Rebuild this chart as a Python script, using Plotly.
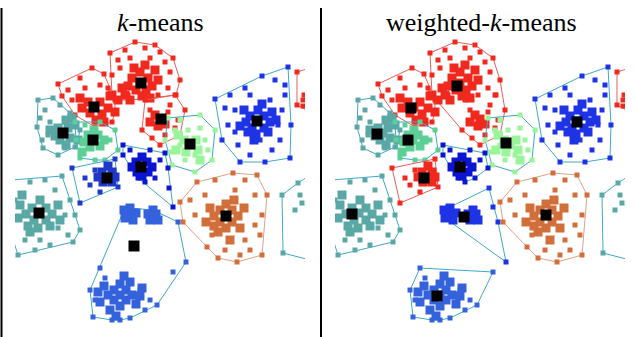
import plotly.graph_objects as go

# ---------------- data (panel-local pixel-like units) ----------------
RT_sparse = [(110,53),(135,42),(155,45),(173,58),(180,80),(112,75),(118,60),(125,50),(145,48),(160,52),
             (165,62),(170,72),(150,58),(130,58),(120,68),(168,88),(176,95),(158,95),(128,95)]
RT_core = [(140,83),(132,78),(148,78),(136,90),(146,90),(128,86),(152,86),(140,72),(134,68),(142,96),
           (125,95),(118,100),(155,70),(150,98),(122,88),(112,95),(130,100),(145,65),(158,80)]
RR_sparse = [(145,100),(175,95),(185,110),(180,135),(160,145),(142,130),(150,110),(170,105),(178,120),
             (165,135),(152,138),(175,128),(168,112)]
RR_core = [(160,119),(155,115),(165,124),(158,126),(150,122)]
RL_sparse = [(58,84),(92,68),(104,74),(115,100),(112,122),(95,127),(75,115),(68,90),(80,78),(100,85),
             (72,100),(85,88),(108,88),(62,96)]
RL_core = [(94,107),(88,102),(100,102),(90,113),(102,114),(82,108),(108,108),(96,120),(110,96),(115,112),
           (104,122),(80,98)]
T_sparse = [(38,100),(53,98),(70,113),(80,130),(75,147),(58,155),(43,148),(37,127),(45,110),(40,118),
            (48,135),(42,140),(60,105),(50,122),(65,148)]
T_core = [(63,133),(58,128),(68,128),(60,140),(70,138),(75,125),(55,136),(66,145),(72,118),(78,140),
          (50,130),(66,120)]
G_sparse = [(75,122),(100,122),(115,130),(118,150),(105,160),(80,158),(76,140),(110,140),(85,125),(95,160)]
G_core = [(93,140),(88,135),(98,135),(90,147),(100,146),(84,142),(104,140),(94,130),(82,152)]
LG_sparse = [(168,118),(200,115),(215,130),(212,160),(195,172),(172,165),(165,140),(180,120),(205,140),
             (185,160),(175,130),(200,128),(208,150),(170,152),(188,130),(195,155),(180,145)]
LG_core = [(190,145),(184,140),(196,140),(186,152),(198,150),(178,135),(200,160),(176,150)]
BR_sparse = [(215,99),(262,76),(288,67),(291,125),(290,158),(265,162),(240,162),(222,140),(230,95),(245,88),
             (275,80),(285,95),(282,110),(235,110),(228,125),(238,145),(250,155),(272,150),(280,140),(285,85),
             (250,95),(225,108),(278,125),(235,132),(270,100),(260,140)]
BR_core = [(257,121),(250,116),(264,116),(252,128),(264,128),(246,122),(270,122),(258,110),(256,134),
           (244,110),(268,132),(272,112),(248,132),(240,126),(262,104),(276,120),(254,140)]
BC_sparse = [(123,145),(165,153),(168,168),(138,178),(123,155),(150,150),(160,160),(155,178),(130,150),(145,182)]
BC_core = [(141,167),(136,162),(147,162),(137,172),(148,172),(132,167),(152,167),(142,157),(142,176)]
BC_tail = [(169,188),(173,207)]
BS_sparse = [(72,168),(115,159),(118,187),(80,203),(90,185),(100,192),(95,170),(85,178)]
BS_core = [(107,177),(102,172),(112,172),(103,182),(112,182),(98,177),(108,166),(115,177)]
TB_sparse = [(12,180),(62,176),(70,200),(80,230),(73,242),(18,255),(10,230),(30,182),(45,180),(55,190),
             (65,215),(68,235),(50,245),(35,250),(25,240),(15,200),(58,228),(40,240),(75,215)]
TB_core = [(39,213),(32,208),(46,208),(34,220),(46,220),(26,214),(52,214),(40,200),(38,228),(20,205),
           (58,205),(28,226),(50,226),(22,195),(30,232),(60,220),(18,218)]
O_sparse = [(180,202),(197,182),(233,173),(257,175),(267,195),(262,255),(237,262),(207,247),(183,222),
            (215,180),(245,180),(255,195),(262,215),(260,235),(250,250),(225,250),(212,235),(195,215),
            (190,200),(245,240),(235,190),(205,195),(255,225),(240,255),(218,258)]
O_core = [(226,216),(220,210),(232,210),(220,222),(232,222),(214,216),(238,216),(226,204),(226,228),
          (210,208),(240,228),(218,232),(234,200),(206,222),(244,208),(230,240),(214,226)]
A_sparse = [(93,317),(112,320),(157,305),(100,268),(90,290),(95,300),(140,290),(150,300),(130,318),
            (105,278),(145,310),(120,320),(173,272)]
A_core = [(120,295),(114,290),(126,290),(114,300),(126,300),(108,295),(132,295),(120,284),(120,306),
          (104,286),(136,304),(110,310),(130,282),(100,302),(140,296),(116,316),(98,292),(142,288),(124,276)]
B_core = [(128,213),(136,213),(125,218),(133,220),(130,208),(124,210)]
C_core = [(148,214),(156,214),(150,220),(158,220),(153,210)]
EXTRA = [(178,222),(186,262)]
TR_sparse = [(282,195),(283,253),(298,183),(310,175),(310,260),(300,195),(302,203),(295,210)]
RF_sparse = [(297,72),(297,105),(310,68),(310,112),(303,100),(303,106),(304,95)]

RED, TEAL, GREEN, LGREEN = "#f0281e", "#5aa8a6", "#5ccf96", "#98f59a"
BLUE, DBLUE, MBLUE, ORANGE, RBLUE = "#1e32e6", "#0a14d2", "#2038c8", "#d26e3a", "#3462dc"
HULL_T, HULL_R, HULL_O = "#40a8c8", "#e5605a", "#e0a088"

# (sparse lists, core lists, colour, hull colour, centroid)
LEFT = [
    ([RT_sparse], [RT_core], RED, HULL_R, (141, 83)),
    ([RL_sparse], [RL_core], RED, HULL_R, (94, 107)),
    ([RR_sparse], [RR_core], RED, HULL_R, (161, 119)),
    ([T_sparse], [T_core], TEAL, HULL_T, (63, 133)),
    ([G_sparse], [G_core], GREEN, HULL_T, (93, 140)),
    ([LG_sparse], [LG_core], LGREEN, HULL_T, (190, 144)),
    ([BR_sparse], [BR_core], BLUE, HULL_T, (257, 121)),
    ([BC_sparse, BC_tail], [BC_core], DBLUE, HULL_T, (141, 167)),
    ([BS_sparse], [BS_core], MBLUE, HULL_T, (107, 178)),
    ([TB_sparse], [TB_core], TEAL, HULL_T, (39, 213)),
    ([O_sparse], [O_core], ORANGE, HULL_O, (226, 216)),
    ([A_sparse, EXTRA], [A_core, B_core, C_core], RBLUE, HULL_T, (134, 246)),
    ([TR_sparse], [], TEAL, HULL_T, None),
    ([RF_sparse], [], RED, HULL_R, None),
]
RIGHT = [
    ([RT_sparse, RR_sparse], [RT_core, RR_core], RED, HULL_R, (137, 86)),
    ([RL_sparse], [RL_core], RED, HULL_R, (91, 108)),
    ([T_sparse], [T_core], TEAL, HULL_T, (57, 134)),
    ([G_sparse], [G_core], GREEN, HULL_T, (88, 140)),
    ([LG_sparse], [LG_core], LGREEN, HULL_T, (186, 143)),
    ([BR_sparse], [BR_core], BLUE, HULL_T, (257, 122)),
    ([BC_sparse], [BC_core], DBLUE, HULL_T, (140, 167)),
    ([BS_sparse], [BS_core], RED, HULL_R, (104, 178)),
    ([TB_sparse], [TB_core], TEAL, HULL_T, (32, 214)),
    ([BC_tail, EXTRA], [B_core, C_core], BLUE, HULL_T, (144, 217)),
    ([O_sparse], [O_core], ORANGE, HULL_O, (226, 215)),
    ([A_sparse], [A_core], RBLUE, HULL_T, (117, 296)),
    ([TR_sparse], [], TEAL, HULL_T, None),
    ([RF_sparse], [], RED, HULL_R, None),
]
TITLES = ["<i>k</i>-means", "weighted-<i>k</i>-means"]


def convex_hull(pts):
    p = sorted(set(pts))
    if len(p) < 3:
        return p

    def cross(o, a, b):
        return (a[0] - o[0]) * (b[1] - o[1]) - (a[1] - o[1]) * (b[0] - o[0])

    lower, upper = [], []
    for q in p:
        while len(lower) >= 2 and cross(lower[-2], lower[-1], q) <= 0:
            lower.pop()
        lower.append(q)
    for q in reversed(p):
        while len(upper) >= 2 and cross(upper[-2], upper[-1], q) <= 0:
            upper.pop()
        upper.append(q)
    return lower[:-1] + upper[:-1]


fig = go.Figure()
W, H = 635, 337

for idx, clusters in enumerate([LEFT, RIGHT]):
    xa = "x" if idx == 0 else "x2"
    ya = "y" if idx == 0 else "y2"
    for sparse, core, col, hcol, cen in clusters:
        sp = [p for l in sparse for p in l]
        co = [p for l in core for p in l]
        hl = convex_hull(sp + co)
        if len(hl) >= 3:
            hl = hl + [hl[0]]
            fig.add_trace(go.Scatter(x=[p[0] for p in hl], y=[p[1] for p in hl], mode="lines+markers",
                                     line=dict(color=hcol, width=1),
                                     marker=dict(symbol="square", size=4, color=hcol),
                                     xaxis=xa, yaxis=ya, showlegend=False, hoverinfo="skip"))
        if sp:
            fig.add_trace(go.Scatter(x=[p[0] for p in sp], y=[p[1] for p in sp], mode="markers",
                                     marker=dict(symbol="square", size=5, color=col),
                                     xaxis=xa, yaxis=ya, showlegend=False, hoverinfo="skip"))
        if co:
            fig.add_trace(go.Scatter(x=[p[0] for p in co], y=[p[1] for p in co], mode="markers",
                                     marker=dict(symbol="square", size=9, color=col),
                                     xaxis=xa, yaxis=ya, showlegend=False, hoverinfo="skip"))
    for sparse, core, col, hcol, cen in clusters:
        if cen is not None:
            fig.add_trace(go.Scatter(x=[cen[0]], y=[cen[1]], mode="markers",
                                     marker=dict(symbol="square", size=11, color="black"),
                                     xaxis=xa, yaxis=ya, showlegend=False, hoverinfo="skip"))

ax = dict(visible=False, range=[15, 305], fixedrange=True)
ay = dict(visible=False, range=[332, 38], fixedrange=True, domain=[(H - 332) / H, (H - 38) / H])
TFONT = dict(family="Liberation Serif, DejaVu Serif, serif", size=26, color="black")
fig.update_layout(
    width=W, height=H, margin=dict(l=0, r=0, t=0, b=0),
    paper_bgcolor="white", plot_bgcolor="white",
    xaxis=dict(ax, domain=[15 / W, 305 / W]),
    xaxis2=dict(ax, domain=[335 / W, 625 / W], anchor="y2"),
    yaxis=dict(ay), yaxis2=dict(ay, anchor="x2"),
    shapes=[
        dict(type="line", xref="paper", yref="paper", x0=1.5 / W, x1=1.5 / W, y0=0, y1=(H - 8) / H,
             line=dict(color="black", width=2)),
        dict(type="line", xref="paper", yref="paper", x0=321 / W, x1=321 / W, y0=0, y1=(H - 8) / H,
             line=dict(color="black", width=2)),
    ],
    annotations=[
        dict(text=TITLES[0], xref="paper", yref="paper", x=160 / W, y=(H - 22) / H, showarrow=False,
             xanchor="center", yanchor="middle", font=TFONT),
        dict(text=TITLES[1], xref="paper", yref="paper", x=481 / W, y=(H - 22) / H, showarrow=False,
             xanchor="center", yanchor="middle", font=TFONT),
    ],
)
fig.write_html("out.html", config={"displayModeBar": False},
               post_script="document.body.style.margin='0px';document.body.style.overflow='hidden';")
